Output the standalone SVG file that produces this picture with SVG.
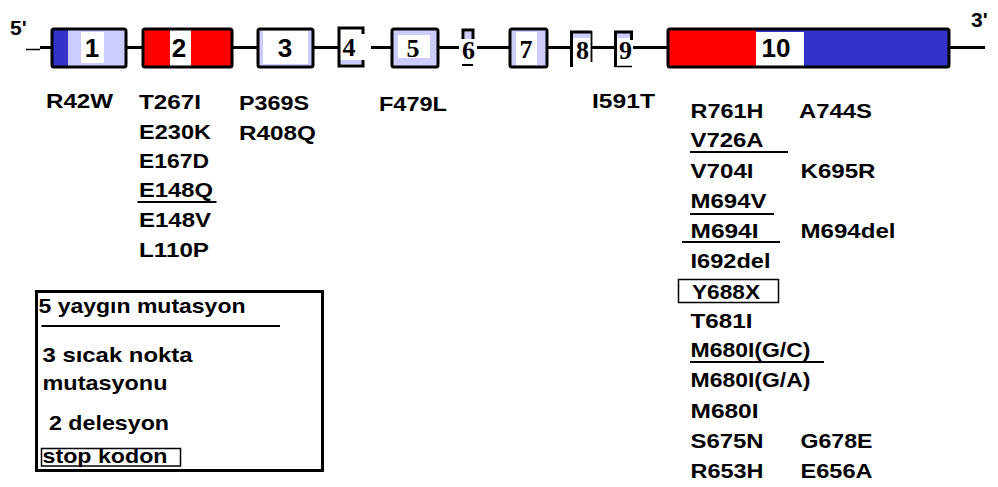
<svg xmlns="http://www.w3.org/2000/svg" width="998" height="487" viewBox="0 0 998 487">
<style>
.t{font-family:"Liberation Sans",Arial,sans-serif;font-weight:bold;font-size:21px;fill:#000}
.d{font-family:"Liberation Sans",Arial,sans-serif;font-weight:bold;font-size:26px;fill:#000;text-anchor:middle}
.s{font-family:"Liberation Serif","Times New Roman",serif;font-weight:bold;font-size:26px;fill:#000;text-anchor:middle}
.b{stroke:#000;stroke-width:3;fill:none}
.u{stroke:#000;stroke-width:2}
.lav{fill:#ccccff}
.wh{fill:#fff}
</style>
<rect width="998" height="487" fill="#fff"/>
<g id="connectors">
<line x1="26" y1="49.5" x2="40" y2="49.5" stroke="#000" stroke-width="1.5"/>
<line x1="40" y1="47.5" x2="985" y2="47.5" stroke="#000" stroke-width="3"/>
</g>
<text class="t" x="10" y="35" font-size="22">5'</text>
<text class="t" x="971" y="27" font-size="22">3'</text>
<g id="exon1">
<rect x="52" y="29" width="74" height="38" class="lav"/>
<rect x="52" y="29" width="16" height="38" fill="#3333cc"/>
<rect x="81" y="32" width="23" height="31" class="wh"/>
<rect x="52" y="29" width="74" height="38" rx="2" class="b"/>
<text class="d" x="92" y="56.5">1</text>
</g>
<g id="exon2">
<rect x="143" y="29" width="89" height="38" fill="#ff0000"/>
<rect x="170" y="29" width="21" height="38" class="wh"/>
<rect x="143" y="29" width="89" height="38" rx="2" class="b"/>
<text class="d" x="179" y="56.5">2</text>
</g>
<g id="exon3">
<rect x="258" y="29" width="55" height="38" class="lav"/>
<rect x="263" y="31" width="45" height="33" class="wh"/>
<rect x="258" y="29" width="55" height="38" rx="2" class="b"/>
<text class="d" x="285" y="56.5">3</text>
</g>
<g id="exon4">
<rect x="339" y="28" width="32" height="38" class="wh"/>
<rect x="340" y="60" width="22" height="4" class="lav"/>
<path d="M363,34 V28 H339 V66 H363 V60" class="b"/>
<text class="s" x="349" y="56">4</text>
</g>
<g id="exon5">
<rect x="392" y="29" width="46" height="38" class="lav"/>
<rect x="398" y="35" width="32" height="23" class="wh"/>
<rect x="392" y="29" width="46" height="38" rx="2" class="b"/>
<text class="s" x="413" y="57">5</text>
</g>
<g id="exon6">
<rect x="459" y="28" width="18" height="38" class="wh"/>
<rect x="465" y="32" width="7" height="7" class="lav"/>
<path d="M463,39 V30 H473 V39" class="b"/>
<line x1="462" y1="65" x2="473" y2="65" class="u" stroke-width="2.5"/>
<text class="s" x="468.5" y="59">6</text>
</g>
<g id="exon7">
<rect x="510" y="29" width="37" height="38" class="lav"/>
<rect x="516" y="32" width="21" height="33" class="wh"/>
<rect x="510" y="29" width="37" height="38" rx="2" class="b"/>
<text class="s" x="526" y="58">7</text>
</g>
<g id="exon8">
<rect x="571" y="31" width="21" height="36" class="wh"/>
<rect x="573" y="33" width="17" height="5" class="lav"/>
<path d="M571.5,67 V32 H591.5" class="b"/>
<line x1="591.5" y1="31" x2="591.5" y2="62" stroke="#000" stroke-width="1.8"/>
<text class="s" x="582.5" y="59">8</text>
</g>
<g id="exon9">
<rect x="615" y="31" width="18" height="36" class="wh"/>
<rect x="617" y="33" width="13" height="5" class="lav"/>
<path d="M615.5,67 V32 H631.5 V40" class="b"/>
<line x1="615" y1="66.5" x2="632" y2="66.5" stroke="#000" stroke-width="1.5"/>
<text class="s" x="625.5" y="59">9</text>
</g>
<g id="exon10">
<rect x="668" y="29" width="281" height="38" fill="#3333cc"/>
<rect x="668" y="29" width="88" height="38" fill="#ff0000"/>
<rect x="756" y="32" width="48" height="35" class="wh"/>
<rect x="668" y="29" width="281" height="38" rx="2" class="b"/>
<text class="d" x="776" y="56.5">10</text>
</g>
<g id="mutations">
<text class="t" x="46" y="108" textLength="67" lengthAdjust="spacingAndGlyphs">R42W</text>
<text class="t" x="139" y="109" textLength="62" lengthAdjust="spacingAndGlyphs">T267I</text>
<text class="t" x="139" y="139" textLength="72" lengthAdjust="spacingAndGlyphs">E230K</text>
<text class="t" x="139" y="168" textLength="70" lengthAdjust="spacingAndGlyphs">E167D</text>
<text class="t" x="139" y="197" textLength="74" lengthAdjust="spacingAndGlyphs">E148Q</text>
<line x1="137.5" y1="202" x2="216.5" y2="202" class="u"/>
<text class="t" x="139" y="227" textLength="72" lengthAdjust="spacingAndGlyphs">E148V</text>
<text class="t" x="139" y="257" textLength="70" lengthAdjust="spacingAndGlyphs">L110P</text>
<text class="t" x="239" y="110" textLength="70" lengthAdjust="spacingAndGlyphs">P369S</text>
<text class="t" x="239" y="140" textLength="77" lengthAdjust="spacingAndGlyphs">R408Q</text>
<text class="t" x="379" y="111" textLength="68" lengthAdjust="spacingAndGlyphs">F479L</text>
<text class="t" x="592" y="108" textLength="63" lengthAdjust="spacingAndGlyphs">I591T</text>
<text class="t" x="690.5" y="118" textLength="73" lengthAdjust="spacingAndGlyphs">R761H</text>
<text class="t" x="799" y="118" textLength="73" lengthAdjust="spacingAndGlyphs">A744S</text>
<text class="t" x="690.5" y="147" textLength="73" lengthAdjust="spacingAndGlyphs">V726A</text>
<line x1="690" y1="152" x2="788" y2="152" class="u"/>
<text class="t" x="690.5" y="178" textLength="63" lengthAdjust="spacingAndGlyphs">V704I</text>
<text class="t" x="800.5" y="178" textLength="75" lengthAdjust="spacingAndGlyphs">K695R</text>
<text class="t" x="690.5" y="208" textLength="76" lengthAdjust="spacingAndGlyphs">M694V</text>
<line x1="690" y1="214" x2="774" y2="214" class="u"/>
<text class="t" x="690.5" y="238" textLength="68" lengthAdjust="spacingAndGlyphs">M694I</text>
<line x1="682" y1="242" x2="780" y2="242" class="u"/>
<text class="t" x="800.5" y="238" textLength="95" lengthAdjust="spacingAndGlyphs">M694del</text>
<text class="t" x="690.5" y="268" textLength="80" lengthAdjust="spacingAndGlyphs">I692del</text>
<rect x="678.5" y="279.5" width="100" height="23" fill="none" stroke="#000" stroke-width="1.5"/>
<text class="t" x="692" y="299" textLength="68" lengthAdjust="spacingAndGlyphs">Y688X</text>
<text class="t" x="690.5" y="328" textLength="62" lengthAdjust="spacingAndGlyphs">T681I</text>
<text class="t" x="690.5" y="357" textLength="120" lengthAdjust="spacingAndGlyphs">M680I(G/C)</text>
<line x1="690" y1="362" x2="824" y2="362" class="u"/>
<text class="t" x="690.5" y="387" textLength="120" lengthAdjust="spacingAndGlyphs">M680I(G/A)</text>
<text class="t" x="690.5" y="418" textLength="68" lengthAdjust="spacingAndGlyphs">M680I</text>
<text class="t" x="690.5" y="448" textLength="73" lengthAdjust="spacingAndGlyphs">S675N</text>
<text class="t" x="800.5" y="448" textLength="72" lengthAdjust="spacingAndGlyphs">G678E</text>
<text class="t" x="690.5" y="478" textLength="73" lengthAdjust="spacingAndGlyphs">R653H</text>
<text class="t" x="800.5" y="478" textLength="72" lengthAdjust="spacingAndGlyphs">E656A</text>
</g>
<g id="legend">
<rect x="36.5" y="291.5" width="286" height="179" fill="none" stroke="#000" stroke-width="3"/>
<line x1="36" y1="471" x2="323" y2="471" stroke="#000" stroke-width="2"/>
<text class="t" x="38.5" y="313" textLength="207" lengthAdjust="spacingAndGlyphs">5 yaygın mutasyon</text>
<line x1="41.5" y1="326" x2="280" y2="326" class="u"/>
<text class="t" x="42.5" y="362" textLength="150" lengthAdjust="spacingAndGlyphs">3 sıcak nokta</text>
<text class="t" x="42.5" y="390" textLength="125" lengthAdjust="spacingAndGlyphs">mutasyonu</text>
<text class="t" x="49" y="430" textLength="120" lengthAdjust="spacingAndGlyphs">2 delesyon</text>
<rect x="41.5" y="448.5" width="139" height="17.5" fill="none" stroke="#000" stroke-width="1.5"/>
<text class="t" x="42.5" y="463" textLength="125" lengthAdjust="spacingAndGlyphs">stop kodon</text>
</g>
</svg>
